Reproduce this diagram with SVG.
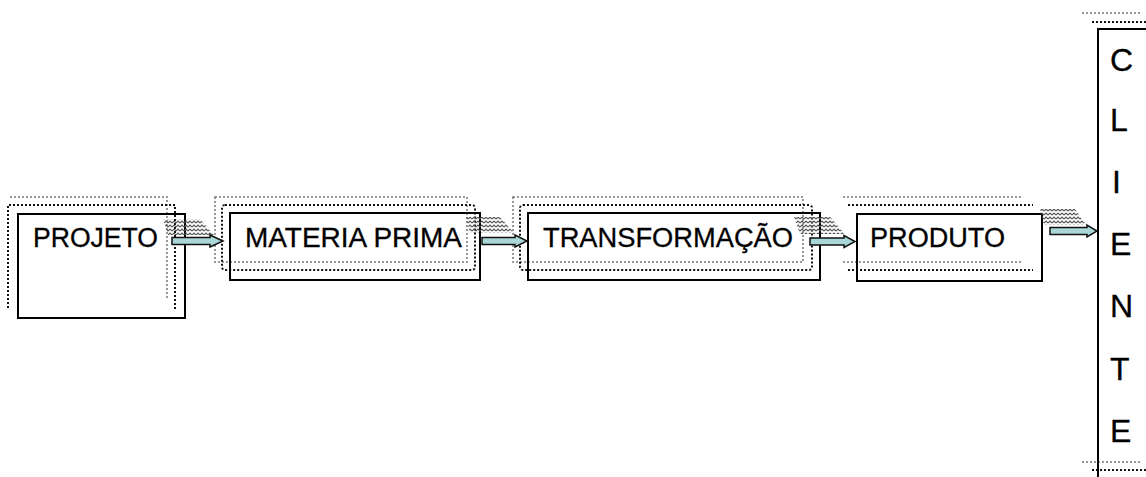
<svg xmlns="http://www.w3.org/2000/svg" width="1146" height="477" viewBox="0 0 1146 477">
<defs>
<pattern id="zz" width="4" height="4" patternUnits="userSpaceOnUse">
<path d="M0,3 L2,1 L4,3" fill="none" stroke="#555" stroke-width="1.2"/>
</pattern>
<style>
.box{fill:none;stroke:#000;stroke-width:2}
.lt{fill:none;stroke:#777;stroke-width:1.5;stroke-dasharray:2 2}
.dk{fill:none;stroke:#111;stroke-width:2;stroke-dasharray:2 2}
.t{font-family:"Liberation Sans",Arial,sans-serif;font-size:27px;fill:#000;stroke:#000;stroke-width:0.3}
.v{font-family:"Liberation Sans",Arial,sans-serif;font-size:32px;fill:#000;stroke:#000;stroke-width:0.3}
.arr{fill:#a9d6d6;stroke:#111;stroke-width:1.5;stroke-linejoin:miter}
.hatch{fill:url(#zz);stroke:none}
</style>
</defs>
<rect width="1146" height="477" fill="#fff"/>

<g id="projeto">
<path class="lt" d="M10,197 H167 V298"/>
<path class="dk" d="M8,308 V205 H175 V310"/>
<rect class="box" x="18" y="214" width="167" height="104"/>
<text class="t" x="33" y="247" textLength="125" lengthAdjust="spacingAndGlyphs">PROJETO</text>
</g>

<g id="materia-prima">
<rect class="lt" x="215" y="197" width="252" height="65"/>
<rect class="dk" x="222" y="205" width="253" height="65" rx="3"/>
<rect class="box" x="230" y="213" width="250" height="67"/>
<text class="t" x="245" y="247" textLength="217" lengthAdjust="spacingAndGlyphs">MATERIA PRIMA</text>
</g>

<g id="transformacao">
<rect class="lt" x="513" y="197" width="290" height="65"/>
<rect class="dk" x="520" y="205" width="292" height="65" rx="3"/>
<rect class="box" x="528" y="213" width="292" height="67"/>
<text class="t" x="543" y="247" textLength="250" lengthAdjust="spacingAndGlyphs">TRANSFORMAÇÃO</text>
</g>

<g id="produto">
<path class="lt" d="M843,197 H1022 M843,262 H1022"/>
<path class="dk" d="M848,205 H1033 M848,270 H1033"/>
<rect class="box" x="857" y="214" width="185" height="67"/>
<text class="t" x="870" y="247" textLength="135" lengthAdjust="spacingAndGlyphs">PRODUTO</text>
</g>

<g id="cliente">
<path class="lt" d="M1082,13 H1140 M1082,462 H1140"/>
<path class="dk" d="M1092,22 H1146 M1092,470 H1146"/>
<path d="M1147,29 H1098 V477" fill="none" stroke="#000" stroke-width="2"/>
<text class="v" x="1110" y="71">C</text>
<text class="v" x="1110" y="131">L</text>
<text class="v" x="1112" y="193">I</text>
<text class="v" x="1110" y="255">E</text>
<text class="v" x="1110" y="317">N</text>
<text class="v" x="1110" y="380">T</text>
<text class="v" x="1110" y="442">E</text>
</g>

<g id="connectors">
<polygon class="hatch" points="163,219 200,219 214,235 168,235"/>
<path class="arr" d="M172,237.5 H210 V235 L223,241 L210,247 V244.5 H172 Z"/>
<polygon class="hatch" points="466,217 500,217 514,233 470,233"/>
<path class="arr" d="M482,237.5 H515 V235 L527,241 L515,247 V244.5 H482 Z"/>
<polygon class="hatch" points="794,217 830,217 845,234 800,234"/>
<path class="arr" d="M810,238 H844 V235.5 L855,241.5 L844,247.5 V245 H810 Z"/>
<polygon class="hatch" points="1040,209 1075,209 1086,225 1044,225"/>
<path class="arr" d="M1050,227.5 H1087 V225 L1097,231 L1087,237 V234.5 H1050 Z"/>
</g>
</svg>
